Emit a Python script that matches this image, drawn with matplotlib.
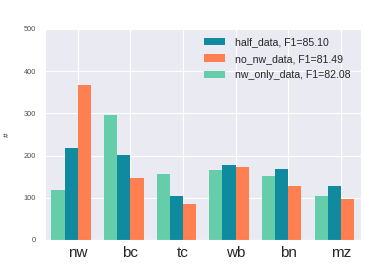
import numpy as np
import matplotlib
matplotlib.use("Agg")
import matplotlib.pyplot as plt
import seaborn as sns

sns.set_style("darkgrid")
plt.rcParams['font.family'] = ['Liberation Sans', 'DejaVu Sans']

categories = ['nw', 'bc', 'tc', 'wb', 'bn', 'mz']
half_data = [217, 201, 103, 178, 168, 127]
no_nw_data = [367, 146, 85, 172, 128, 98]
nw_only_data = [119, 296, 157, 165, 152, 104]
labels = ['half_data, F1=85.10', 'no_nw_data, F1=81.49', 'nw_only_data, F1=82.08']

x = np.arange(len(categories))
w = 0.25

fig = plt.figure(figsize=(3.65, 2.66), dpi=100)
ax = fig.add_axes([0.123, 0.098, 0.865, 0.793])

ax.bar(x, half_data, w, color='#0f8a9e', linewidth=0, label=labels[0])
ax.bar(x + w, no_nw_data, w, color='#ff7f50', linewidth=0, label=labels[1])
ax.bar(x - w, nw_only_data, w, color='#66cdaa', linewidth=0, label=labels[2])

ax.set_xticks(x + w / 2)
ax.set_xticklabels(categories, fontsize=11)
ax.set_xlim(-0.5, 5.5)
ax.set_ylim(0, 500)
ax.set_yticks(range(0, 501, 100))
ax.tick_params(axis='y', labelsize=5.3, colors='.3', pad=3)
ax.tick_params(axis='x', pad=1)
ax.set_ylabel('#', fontsize=6, labelpad=9)

ax.legend(loc='upper right', fontsize=7.6, frameon=False, handlelength=2.0,
          handleheight=0.7, handletextpad=0.9, labelspacing=0.6,
          bbox_to_anchor=(0.998, 1.005))

fig.savefig('out.png', dpi=100)
